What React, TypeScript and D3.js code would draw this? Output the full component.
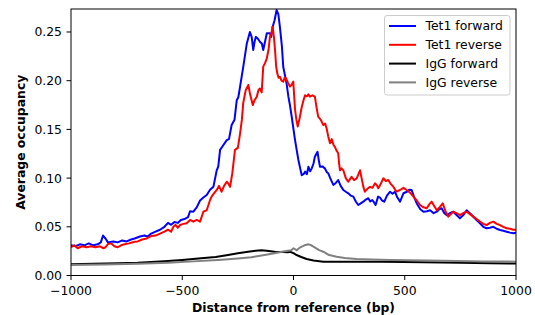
import React from "react";
import * as d3 from "d3";

// Tet1 forward (blue)
const fwdPos = [-1000, -980, -960, -940, -920, -900, -880, -866, -856, -845, -834, -810, -790, -770, -750, -730, -714, -690, -670, -655, -640, -620, -600, -580, -564, -550, -535, -520, -506, -490, -474, -465, -450, -435, -420, -405, -390, -375, -360, -345, -338, -330, -318, -300, -290, -278, -265, -255, -248, -240, -226, -210, -196, -188, -181, -175, -169, -160, -151, -142, -136, -128, -120, -106, -100, -94, -85, -76, -68, -61, -52, -46, -38, -31, -23, -16, -8, 0, 7, 15, 22, 30, 37, 45, 52, 60, 67, 75, 82, 90, 96, 108, 114, 119, 130, 141, 150, 156, 165, 179, 190, 201, 212, 224, 235, 246, 258, 269, 280, 291, 302, 314, 325, 336, 345, 354, 362, 369, 380, 389, 398, 408, 420, 434, 445, 456, 467, 479, 494, 510, 520, 531, 543, 554, 570, 584, 600, 614, 630, 644, 655, 666, 678, 689, 703, 718, 733, 748, 763, 778, 793, 808, 823, 838, 853, 868, 883, 898, 913, 928, 943, 958, 973, 988, 1000];
const fwdVal = [0.031, 0.030, 0.032, 0.031, 0.033, 0.031, 0.032, 0.034, 0.041, 0.038, 0.034, 0.035, 0.034, 0.036, 0.035, 0.037, 0.038, 0.040, 0.041, 0.040, 0.043, 0.045, 0.047, 0.050, 0.054, 0.052, 0.055, 0.054, 0.057, 0.058, 0.060, 0.066, 0.0655, 0.070, 0.077, 0.080, 0.0826, 0.088, 0.091, 0.108, 0.112, 0.129, 0.133, 0.139, 0.140, 0.1545, 0.160, 0.180, 0.183, 0.194, 0.214, 0.238, 0.250, 0.245, 0.2315, 0.240, 0.245, 0.243, 0.240, 0.238, 0.2315, 0.240, 0.2487, 0.2487, 0.245, 0.255, 0.262, 0.2726, 0.268, 0.255, 0.235, 0.214, 0.205, 0.197, 0.1836, 0.175, 0.163, 0.150, 0.139, 0.128, 0.1186, 0.110, 0.103, 0.104, 0.1066, 0.104, 0.1117, 0.107, 0.110, 0.115, 0.122, 0.127, 0.118, 0.1117, 0.112, 0.110, 0.106, 0.105, 0.100, 0.093, 0.095, 0.098, 0.092, 0.0878, 0.086, 0.0844, 0.082, 0.081, 0.076, 0.0724, 0.074, 0.0758, 0.078, 0.0793, 0.076, 0.0775, 0.075, 0.0724, 0.081, 0.080, 0.077, 0.0758, 0.082, 0.086, 0.084, 0.086, 0.080, 0.0758, 0.0844, 0.086, 0.088, 0.0878, 0.080, 0.074, 0.068, 0.0655, 0.066, 0.067, 0.064, 0.0655, 0.068, 0.069, 0.064, 0.062, 0.064, 0.0655, 0.062, 0.0587, 0.062, 0.067, 0.064, 0.0604, 0.057, 0.0536, 0.050, 0.0485, 0.049, 0.050, 0.048, 0.0467, 0.046, 0.045, 0.044, 0.0433, 0.044];

// Tet1 reverse (red)
const revPos = [-1000, -985, -970, -950, -930, -910, -890, -870, -855, -845, -834, -820, -805, -790, -775, -760, -740, -714, -700, -680, -660, -640, -620, -600, -580, -564, -550, -540, -530, -520, -510, -495, -480, -465, -450, -435, -420, -405, -390, -375, -368, -355, -345, -335, -323, -312, -300, -292, -285, -275, -263, -250, -240, -232, -226, -215, -203, -195, -183, -175, -165, -158, -151, -143, -136, -128, -120, -112, -106, -100, -94, -88, -83, -78, -73, -67, -61, -54, -46, -40, -34, -25, -16, -8, -1, 7, 13, 19, 28, 37, 45, 52, 60, 67, 74, 85, 96, 104, 111, 122, 134, 142, 149, 156, 164, 172, 180, 186, 194, 201, 205, 209, 216, 224, 235, 246, 254, 261, 272, 284, 292, 299, 306, 314, 321, 332, 344, 355, 366, 374, 381, 392, 404, 415, 426, 437, 449, 457, 464, 479, 494, 509, 524, 539, 554, 569, 584, 599, 610, 621, 633, 644, 656, 671, 683, 696, 707, 718, 733, 748, 763, 778, 793, 808, 823, 838, 853, 868, 883, 898, 913, 928, 943, 958, 973, 988, 1000];
const revVal = [0.029, 0.031, 0.028, 0.030, 0.029, 0.030, 0.029, 0.030, 0.028, 0.029, 0.0323, 0.033, 0.030, 0.029, 0.031, 0.032, 0.033, 0.0347, 0.035, 0.037, 0.038, 0.0405, 0.041, 0.043, 0.045, 0.047, 0.045, 0.050, 0.052, 0.049, 0.0518, 0.053, 0.0536, 0.057, 0.0553, 0.057, 0.0553, 0.0655, 0.067, 0.0775, 0.081, 0.085, 0.0878, 0.092, 0.086, 0.092, 0.0963, 0.094, 0.091, 0.105, 0.129, 0.131, 0.146, 0.160, 0.177, 0.190, 0.1956, 0.186, 0.175, 0.180, 0.1836, 0.190, 0.192, 0.188, 0.2144, 0.218, 0.223, 0.232, 0.245, 0.248, 0.2555, 0.245, 0.2315, 0.215, 0.2076, 0.203, 0.204, 0.200, 0.199, 0.203, 0.2025, 0.198, 0.194, 0.196, 0.199, 0.170, 0.160, 0.153, 0.162, 0.173, 0.180, 0.185, 0.184, 0.186, 0.1836, 0.185, 0.1836, 0.172, 0.163, 0.160, 0.1545, 0.156, 0.151, 0.143, 0.1357, 0.140, 0.134, 0.132, 0.128, 0.1255, 0.115, 0.108, 0.110, 0.108, 0.100, 0.0963, 0.099, 0.1014, 0.098, 0.0998, 0.104, 0.108, 0.100, 0.091, 0.086, 0.089, 0.091, 0.090, 0.0946, 0.093, 0.0895, 0.094, 0.0998, 0.097, 0.098, 0.094, 0.091, 0.088, 0.086, 0.0878, 0.090, 0.0878, 0.085, 0.081, 0.077, 0.0724, 0.070, 0.069, 0.073, 0.0758, 0.071, 0.067, 0.070, 0.074, 0.066, 0.0604, 0.063, 0.0655, 0.064, 0.062, 0.064, 0.0655, 0.063, 0.0604, 0.058, 0.0553, 0.053, 0.0518, 0.054, 0.0553, 0.053, 0.0518, 0.050, 0.0485, 0.048, 0.047, 0.047];

// IgG forward (black)
const igfPos = [-1000, -900, -789, -700, -600, -564, -500, -415, -350, -294, -250, -204, -170, -145, -120, -85, -50, -25, -16, 0, 14, 35, 59, 90, 134, 200, 284, 400, 584, 750, 883, 1000];
const igfVal = [0.0115, 0.012, 0.0125, 0.013, 0.0143, 0.0149, 0.016, 0.0176, 0.019, 0.021, 0.0228, 0.0244, 0.0255, 0.026, 0.0255, 0.0244, 0.024, 0.0238, 0.0244, 0.023, 0.021, 0.019, 0.017, 0.0155, 0.0142, 0.0142, 0.0142, 0.014, 0.0135, 0.013, 0.0125, 0.0123];

// IgG reverse (gray)
const igrPos = [-1000, -850, -700, -564, -450, -339, -250, -190, -130, -85, -40, -10, 0, 14, 25, 37, 50, 67, 80, 97, 115, 134, 160, 194, 230, 284, 350, 434, 600, 734, 850, 1000];
const igrVal = [0.0108, 0.0112, 0.012, 0.0132, 0.0145, 0.016, 0.0175, 0.0187, 0.021, 0.0228, 0.025, 0.026, 0.028, 0.026, 0.028, 0.0296, 0.031, 0.032, 0.031, 0.0286, 0.026, 0.0244, 0.021, 0.0193, 0.018, 0.017, 0.0165, 0.016, 0.0153, 0.0149, 0.0145, 0.0142];

const seriesNames = ["Tet1 forward", "Tet1 reverse", "IgG forward", "IgG reverse"];
const seriesColors = ["#0000ff", "#ff0000", "#000000", "#808080"];
const xTicks = [-1000, -500, 0, 500, 1000];
const yTicks = [0, 0.05, 0.1, 0.15, 0.2, 0.25];

const W = 535;
const H = 315;
const left = 71;
const right = 516;
const top = 9;
const bottom = 275.5;
const font = "DejaVu Sans, sans-serif";
const fs = 12.4;

export default function App() {
  const x = d3.scaleLinear().domain([-1000, 1000]).range([left, right]);
  const y = d3.scaleLinear().domain([0, 0.2736]).range([bottom, top]);

  const series = [
    fwdPos.map((p, i) => [p, fwdVal[i]] as [number, number]),
    revPos.map((p, i) => [p, revVal[i]] as [number, number]),
    igfPos.map((p, i) => [p, igfVal[i]] as [number, number]),
    igrPos.map((p, i) => [p, igrVal[i]] as [number, number]),
  ];

  const line = d3
    .line<[number, number]>()
    .x((d) => x(d[0]))
    .y((d) => y(d[1]));

  const fmtX = (v: number) => (v < 0 ? "\u2212" + Math.abs(v) : String(v));

  // IgG first so the Tet1 lines sit on top
  const order = [2, 3, 0, 1];

  return (
    <svg
      width={W}
      height={H}
      style={{ position: "absolute", left: 0, top: 0, background: "#fff" }}
      fontFamily={font}
    >
      <defs>
        <clipPath id="plot">
          <rect x={left} y={top} width={right - left} height={bottom - top} />
        </clipPath>
      </defs>

      <g clipPath="url(#plot)">
        {order.map((i) => (
          <path
            key={seriesNames[i]}
            d={line(series[i]) || ""}
            fill="none"
            stroke={seriesColors[i]}
            strokeWidth={2}
            strokeLinejoin="round"
          />
        ))}
      </g>

      <rect
        x={left}
        y={top}
        width={right - left}
        height={bottom - top}
        fill="none"
        stroke="#000"
        strokeWidth={1}
      />

      {xTicks.map((t) => (
        <g key={t} transform={`translate(${x(t)},${bottom})`}>
          <line y2={4.5} stroke="#000" strokeWidth={1} />
          <text y={19} textAnchor="middle" fontSize={fs} fill="#000">
            {fmtX(t)}
          </text>
        </g>
      ))}

      {yTicks.map((t) => (
        <g key={t} transform={`translate(${left},${y(t)})`}>
          <line x2={-4.5} stroke="#000" strokeWidth={1} />
          <text x={-9} dy="0.36em" textAnchor="end" fontSize={fs} fill="#000">
            {t.toFixed(2)}
          </text>
        </g>
      ))}

      <text
        x={(left + right) / 2}
        y={311.5}
        textAnchor="middle"
        fontSize={fs}
        fontWeight="bold"
      >
        Distance from reference (bp)
      </text>
      <text
        transform={`translate(25,${(top + bottom) / 2}) rotate(-90)`}
        textAnchor="middle"
        fontSize={fs}
        fontWeight="bold"
      >
        Average occupancy
      </text>

      <g>
        <rect
          x={384.5}
          y={15.5}
          width={125.5}
          height={79.5}
          rx={2.5}
          fill="#fff"
          fillOpacity={0.8}
          stroke="#cccccc"
          strokeWidth={1}
        />
        {seriesNames.map((name, i) => {
          const ly = 26 + i * 18.8;
          return (
            <g key={name}>
              <line
                x1={389}
                x2={416}
                y1={ly}
                y2={ly}
                stroke={seriesColors[i]}
                strokeWidth={2}
              />
              <text x={425.5} y={ly} dy="0.36em" fontSize={fs} fill="#000">
                {name}
              </text>
            </g>
          );
        })}
      </g>
    </svg>
  );
}
